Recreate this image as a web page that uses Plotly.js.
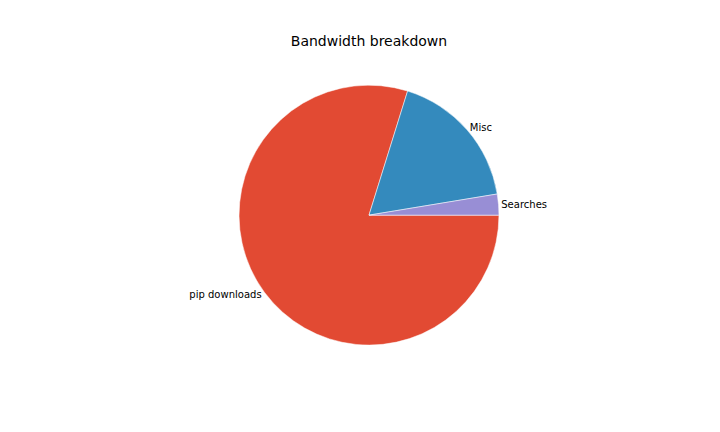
<!DOCTYPE html>
<html><head><script src="https://cdn.plot.ly/plotly-3.0.1.min.js"></script></head>
<body style="margin:0">
<div id="c" style="width:720px;height:432px"></div>
<script>
const labels = ["pip downloads", "Misc", "Searches"];
const values = [79.8, 17.6, 2.6];
const colors = ["#E24A33", "#348ABD", "#988ED5"];
Plotly.newPlot("c", [{
  type: "pie", labels: labels, values: values, sort: false,
  direction: "clockwise", rotation: 90,
  marker: {colors: colors, line: {color: "#ffffff", width: 0.5}},
  textinfo: "label", textposition: "outside", automargin: false,
  textfont: {family: "DejaVu Sans", size: 10, color: "#000"},
  hoverinfo: "label+percent", showlegend: false,
  domain: {x: [0.332, 0.693], y: [0.201, 0.803]}
}], {
  width: 720, height: 432, margin: {l: 0, r: 0, t: 0, b: 0},
  paper_bgcolor: "#fff",
  title: {text: "Bandwidth breakdown", x: 0.5125, y: 0.905, yanchor: "middle",
          font: {family: "DejaVu Sans", size: 14, color: "#000"}}
}, {displayModeBar: false});
</script></body></html>
